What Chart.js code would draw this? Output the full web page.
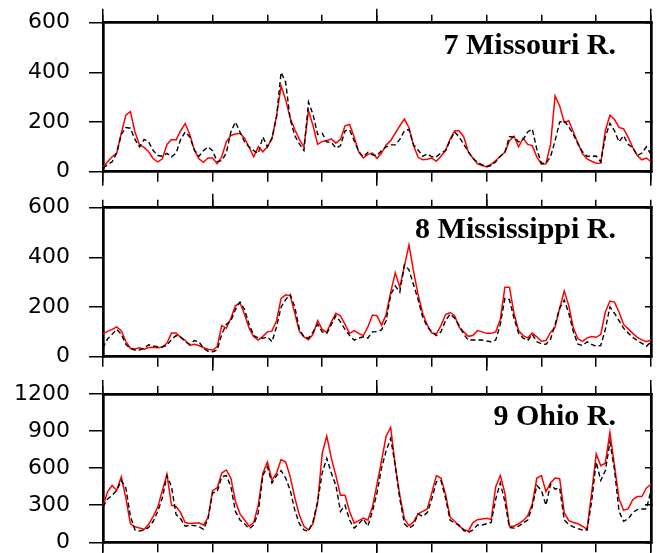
<!DOCTYPE html>
<html><head><meta charset="utf-8">
<script src="https://cdn.jsdelivr.net/npm/chart.js@4/dist/chart.umd.min.js"></script>
<style>
html,body{margin:0;padding:0;background:#fff;}
#wrap{position:relative;width:661px;height:553px;overflow:hidden;}
canvas{position:absolute;left:0;}
.ttl{position:absolute;right:45px;font:bold 30px "Liberation Serif","Times New Roman",serif;line-height:30px;color:#000;white-space:nowrap;}
</style></head><body>
<div id="wrap">
<canvas id="c1" width="661" height="186" style="top:0px"></canvas>
<canvas id="c2" width="661" height="186" style="top:185px"></canvas>
<canvas id="c3" width="661" height="183" style="top:370px"></canvas>
<div class="ttl" style="top:29px">7 Missouri R.</div>
<div class="ttl" style="top:213px">8 Mississippi R.</div>
<div class="ttl" style="top:400px">9 Ohio R.</div>
</div>
<script>
// month index along the 10-year record (0 .. 120)
const months = Array.from({length: 121}, (_, i) => i);
const yearTicks = [0, 12, 24, 36, 48, 60, 72, 84, 96, 108, 120];
const longTicksA = [0, 60, 120];
const longTicksB = [24, 84];

const yLabels600 = ['0', '200', '400', '600'];
const yLabels1200 = ['0', '300', '600', '900', '1200'];

const missouriSim = [
  18,40,60,75,155,228,242,160,108,98,
  80,52,40,52,110,130,128,165,194,150,
  88,52,38,55,55,32,60,120,146,152,
  155,135,98,60,101,80,100,133,225,345,
  290,215,170,130,100,245,185,110,122,125,
  132,115,130,185,190,140,80,55,70,75,
  54,75,108,125,155,185,212,178,105,58,
  48,50,55,42,62,85,130,165,165,140,
  80,55,32,25,20,30,45,62,78,125,
  143,100,135,110,105,60,30,32,110,305,
  265,198,205,160,115,72,52,42,34,35,
  165,228,210,178,172,138,98,65,48,55,
  40];
const missouriObs = [
  15,28,40,75,150,178,175,130,100,130,
  120,85,65,62,74,60,75,130,160,140,
  88,62,85,100,85,40,45,75,160,200,
  160,120,100,85,74,140,100,135,220,400,
  360,210,145,112,85,280,230,150,155,120,
  118,95,105,165,168,125,81,60,78,68,
  65,85,100,108,108,130,165,170,108,88,
  62,72,60,60,75,85,125,160,140,110,
  80,54,38,28,20,25,40,62,78,141,
  140,120,130,160,172,90,34,34,60,125,
  200,205,180,150,112,80,62,62,63,40,
  140,195,165,120,145,110,96,65,75,100,
  70];

const mississippiSim = [
  92,102,110,120,105,62,34,31,36,30,
  37,38,36,38,55,95,95,78,66,45,
  50,45,36,30,27,40,125,115,155,205,
  218,170,115,80,67,82,100,104,145,235,
  249,245,175,102,80,68,90,145,110,98,
  140,175,165,130,94,105,94,85,120,168,
  165,126,170,260,338,280,365,450,345,250,
  175,128,95,92,125,170,178,165,118,100,
  82,85,105,100,94,94,100,150,280,280,
  175,105,85,76,95,80,62,65,98,120,
  195,265,205,115,72,62,76,81,78,90,
  180,224,220,180,130,112,94,78,68,60,
  67];
const mississippiObs = [
  35,72,90,110,90,50,32,27,27,35,
  48,43,40,40,45,70,85,80,60,50,
  65,60,34,22,20,27,90,130,145,190,
  220,190,130,85,76,74,80,60,120,200,
  230,250,200,110,80,75,100,130,100,94,
  130,165,140,110,85,67,75,80,75,100,
  101,108,145,250,285,260,370,350,290,230,
  160,120,100,85,100,145,172,155,125,90,
  67,67,67,67,63,60,67,130,235,230,
  155,95,75,65,90,60,52,50,70,130,
  195,228,175,100,50,45,60,50,42,45,
  110,200,175,145,115,95,78,65,54,42,
  60];

const ohioSim = [
  290,410,460,420,530,360,150,126,115,105,
  145,210,285,420,550,300,290,240,160,152,
  155,158,140,200,420,440,560,585,520,330,
  230,180,130,160,300,560,650,504,560,670,
  650,530,360,220,130,100,150,320,720,860,
  680,540,380,380,250,155,175,195,180,285,
  470,660,860,930,620,380,190,135,165,230,
  250,270,400,540,520,390,205,170,130,105,
  90,160,183,188,194,185,450,540,400,130,
  130,150,175,215,310,520,540,410,480,520,
  515,240,175,160,150,130,105,400,715,620,
  640,890,620,350,260,270,345,370,370,440,
  470];
const ohioObs = [
  288,350,380,420,500,440,210,100,92,100,
  120,170,250,360,540,450,225,190,130,138,
  135,126,105,190,400,410,530,540,450,250,
  180,150,110,140,240,540,610,480,540,580,
  520,420,260,150,100,90,170,330,560,680,
  560,460,250,300,180,115,150,190,130,250,
  400,600,740,840,620,350,150,113,140,230,
  210,240,350,490,500,360,180,155,140,95,
  80,100,140,140,150,160,350,480,330,120,
  115,130,155,180,290,460,420,300,470,430,
  440,180,145,125,110,100,100,330,650,500,
  580,810,590,250,170,190,240,265,270,270,
  420];

const BLACK = '#000000';
const RED = '#ff0000';

function keepTicks(list) { return s => { s.ticks = s.ticks.filter(t => list.includes(t.value)); }; }
function noPad(s) { s.paddingTop = 0; s.paddingBottom = 0; s.paddingLeft = 0; s.paddingRight = 0; }

function makePanel(id, sim, obs, yLabels, longTicks, box) {
  // box: desired plot area {left, right, top, bottom} in canvas pixels
  const canvas = document.getElementById(id);
  const W = canvas.width, H = canvas.height;
  const size = {left: box.left, right: W - box.right, top: box.top, bottom: H - box.bottom};
  const yVals = yLabels.map(Number);
  const yMax = yVals[yVals.length - 1];
  const step = yVals[1] - yVals[0];

  function xAxis(position, tickList, tickLen, withBorder, sizeKey) {
    return {
      type: 'category', position: position,
      afterBuildTicks: keepTicks(tickList),
      afterFit: s => { s.height = sizeKey ? size[sizeKey] : 0; noPad(s); },
      grid: {drawOnChartArea: false, drawTicks: true, tickLength: tickLen, lineWidth: 1.5, color: BLACK},
      border: {display: withBorder, color: BLACK, width: 2.7},
      ticks: {display: false}
    };
  }

  return new Chart(canvas, {
    type: 'line',
    data: {
      labels: months,
      datasets: [
        {data: obs, borderColor: BLACK, borderWidth: 1.4, borderDash: [5, 3], pointRadius: 0, fill: false, tension: 0},
        {data: sim, borderColor: RED, borderWidth: 1.5, pointRadius: 0, fill: false, tension: 0}
      ]
    },
    options: {
      responsive: false, animation: false, events: [],
      layout: {padding: 0, autoPadding: false},
      plugins: {legend: {display: false}, tooltip: {enabled: false}, title: {display: false}},
      scales: {
        xLongB: xAxis('bottom', longTicks, 14, false, null),
        x: xAxis('bottom', yearTicks, 10, true, 'bottom'),
        xLongT: xAxis('top', longTicks, 14, false, null),
        xTop: xAxis('top', yearTicks, 8, true, 'top'),
        y: {
          type: 'linear', position: 'left', min: 0, max: yMax,
          afterFit: s => { s.width = size.left; noPad(s); },
          grid: {drawOnChartArea: false, tickLength: 14, lineWidth: 1.5, color: BLACK},
          border: {display: true, color: BLACK, width: 2.7},
          ticks: {stepSize: step, color: BLACK, padding: 19,
                  font: {family: 'DejaVu Sans', size: 22},
                  callback: (v, i) => yLabels[i]}
        },
        yR: {
          type: 'linear', position: 'right', min: 0, max: yMax,
          afterFit: s => { s.width = size.right; noPad(s); },
          grid: {drawOnChartArea: false, tickLength: -6, lineWidth: 1.5, color: BLACK},
          border: {display: true, color: BLACK, width: 2.7},
          ticks: {stepSize: step, display: false}
        }
      }
    }
  });
}

makePanel('c1', missouriSim, missouriObs, yLabels600, longTicksA, {left: 103, right: 651, top: 22.7, bottom: 171.7});
makePanel('c2', mississippiSim, mississippiObs, yLabels600, longTicksB, {left: 103, right: 651, top: 22.7, bottom: 171.7});
makePanel('c3', ohioSim, ohioObs, yLabels1200, longTicksA, {left: 103, right: 651, top: 24, bottom: 172.3});
</script>
</body></html>
